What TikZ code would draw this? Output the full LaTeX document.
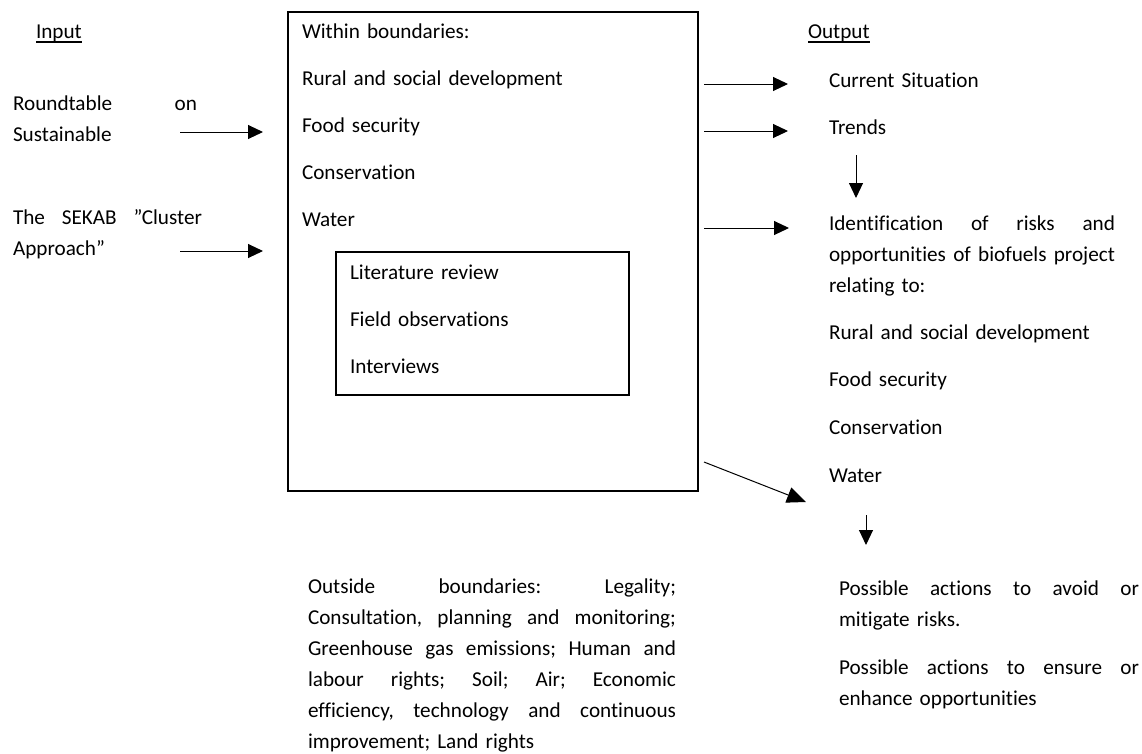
\documentclass[tikz,border=0pt]{standalone}
\usepackage{fontspec}
\setmainfont{Carlito}[Ligatures=NoCommon]
\usetikzlibrary{arrows.meta,calc}
\newcommand\myul[1]{\setbox0\hbox{#1}\rlap{\rule[-4.5pt]{\wd0}{1.4pt}}\box0}
\newcommand\hf{\hfill}
\begin{document}
\begin{tikzpicture}[x=1pt,y=-1pt,
  txt/.style={anchor=base west,inner sep=0pt,outer sep=0pt,align=left,font=\fontsize{21.2}{31}\selectfont},
  wide/.style={font=\fontsize{21.2}{47.2}\selectfont},
  boxs/.style={draw,line width=1.5pt,inner sep=0pt,outer sep=0pt,anchor=north west},
  arr/.style={line width=1pt,-{Triangle[length=15pt,width=14pt]}},
  bigarr/.style={line width=1pt,-{Triangle[length=19pt,width=16pt]}}]
\useasboundingbox (0,0) rectangle (1142,753);

% headers
\node[txt,text width=60pt] (in) at (36,38) {\myul{Input}};
\node[txt,text width=70pt] (out) at (808,38) {\myul{Output}};

% inputs
\node[txt,text width=184pt] (rt) at (13,110) {\makebox[184pt]{Roundtable\hf on}\\Sustainable};
\node[txt,text width=189pt] (sk) at (13,224) {\makebox[189pt]{The\hf SEKAB\hf ”Cluster}\\Approach”};

% main box
\node[boxs,minimum width=410pt,minimum height=479pt] (main) at (288,12) {};
\node[txt,wide,text width=380pt] (within) at (302,38) {Within boundaries:\\Rural and social development\\Food security\\Conservation\\Water};
\node[boxs,line width=1.3pt,minimum width=293pt,minimum height=143pt] (methods) at (336,252) {};
\node[txt,font=\fontsize{21.2}{47}\selectfont,text width=260pt] (mlist) at (350,279) {Literature review\\Field observations\\Interviews};

% outputs
\node[txt,text width=250pt] (cur) at (829,87) {Current Situation};
\node[txt,text width=100pt] (trends) at (829,134) {Trends};
\node[txt,text width=286pt] (idf) at (829,230) {\makebox[286pt]{Identification\hf of\hf risks\hf and}\\\makebox[286pt]{opportunities\hf of\hf biofuels\hf project}\\relating to:};
\node[txt,font=\fontsize{21.2}{47.7}\selectfont,text width=290pt] (olist) at (829,339) {Rural and social development\\Food security\\Conservation\\Water};
\node[txt,text width=300pt] (poss) at (839,595) {\makebox[300pt]{Possible\hf actions\hf to\hf avoid\hf or}\\mitigate risks.\\[17pt]\makebox[300pt]{Possible\hf actions\hf to\hf ensure\hf or}\\enhance opportunities};

% outside boundaries
\node[txt,text width=368pt] (outside) at (308,593) {\makebox[368pt]{Outside\hf boundaries:\hf Legality;}\\
\makebox[368pt]{Consultation,\hf planning\hf and\hf monitoring;}\\
\makebox[368pt]{Greenhouse\hf gas\hf emissions;\hf Human\hf and}\\
\makebox[368pt]{labour\hf rights;\hf Soil;\hf Air;\hf Economic}\\
\makebox[368pt]{efficiency,\hf technology\hf and\hf continuous}\\
improvement; Land rights};

% connectors
\draw[arr] ($(rt.base east)+(-17,22)$) -- ($(main.west |- rt.base)+(-25,22)$);
\draw[arr] ($(sk.base east)+(-22,27)$) -- ($(main.west |- sk.base)+(-25,27)$);
\draw[arr] ($(main.east |- cur.base)+(6,-3)$) -- ($(cur.base west)+(-41,-3)$);
\draw[arr] ($(main.east |- trends.base)+(6,-3)$) -- ($(trends.base west)+(-41,-3)$);
\draw[arr] ($(main.east |- idf.base)+(6,-2)$) -- ($(idf.base west)+(-40,-2)$);
\draw[arr] ($(trends.base west)+(27,21)$) -- ($(idf.base west)+(27,-32)$);
\draw[bigarr] ($(main.south east)+(6,-29)$) -- ($(olist.base west)+(-23,163)$);
\draw[arr] ($(olist.base west)+(37,176)$) -- ($(poss.base west)+(27,-50)$);
\end{tikzpicture}
\end{document}
